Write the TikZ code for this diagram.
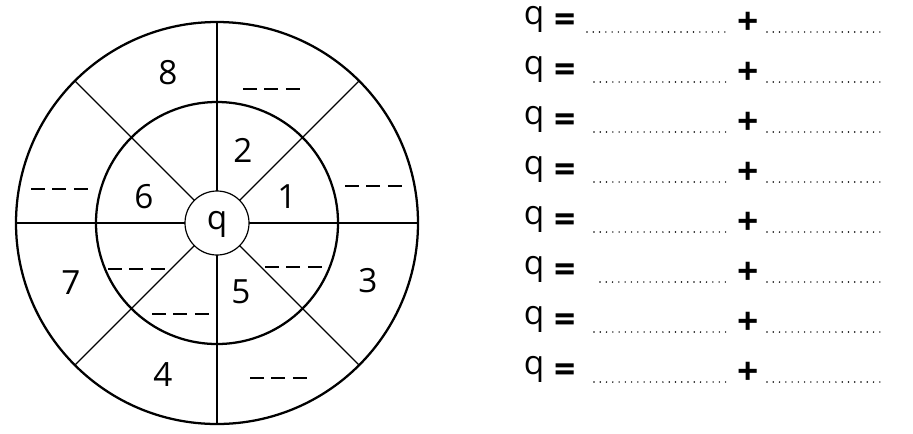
\documentclass[tikz,border=0pt]{standalone}
\usepackage{fontspec}
\setmainfont{Open Sans}

\begin{document}
\begin{tikzpicture}[x=0.75pt, y=-0.75pt,
  ring/.style={line width=1.7pt},
  spoke/.style={line width=0.9pt},
  blank/.style={line width=1pt, dash pattern=on 10.5pt off 5.6pt},
  num/.style={font=\fontsize{25}{28}\selectfont, inner sep=0pt},
  sym/.style={font=\fontsize{28}{32}\selectfont\bfseries, inner sep=0pt},
  dots/.style={line width=1.2pt, line cap=round, dash pattern=on 0pt off 4.7pt}
]
\useasboundingbox (0,0) rectangle (913,433);
\coordinate (c) at (217,223);
\draw[ring] (c) circle (201);
\draw[ring] (c) circle (121);
\draw[spoke] (c) circle (32);
\foreach \a in {0,45,...,315}
  \draw[spoke, shift={(c)}] (\a:32) -- (\a:201);
\node[num] (hub) at (217,224) {q};
\node[num] (n8) at (168,73)  {8};
\node[num] (n2) at (243,150) {2};
\node[num] (n1) at (287,197) {1};
\node[num] (n6) at (144,197) {6};
\node[num] (n7) at (71,283)  {7};
\node[num] (n5) at (241,292) {5};
\node[num] (n3) at (368,281) {3};
\node[num] (n4) at (163,375) {4};
\draw[blank] (243,89)  -- +(57,0);
\draw[blank] (345,186) -- +(57,0);
\draw[blank] (31,189)  -- +(57,0);
\draw[blank] (108,269) -- +(57,0);
\draw[blank] (265,267) -- +(57,0);
\draw[blank] (152,314) -- +(57,0);
\draw[blank] (250,378) -- +(57,0);
\foreach \k/\s in {0/587,1/594,2/594,3/594,4/594,5/600,6/594,7/594} {
  \pgfmathsetmacro{\yy}{32+50*\k}
  \node[num] (q\k) at (534,\yy-13) {q};
  \node[sym] (eq\k) at (565,\yy-9) {=};
  \node[sym] (pl\k) at (748,\yy-9) {+};
  \draw[dots] (\s,\yy) -- (727,\yy);
  \draw[dots] (767,\yy) -- (883,\yy);
}
\end{tikzpicture}
\end{document}
